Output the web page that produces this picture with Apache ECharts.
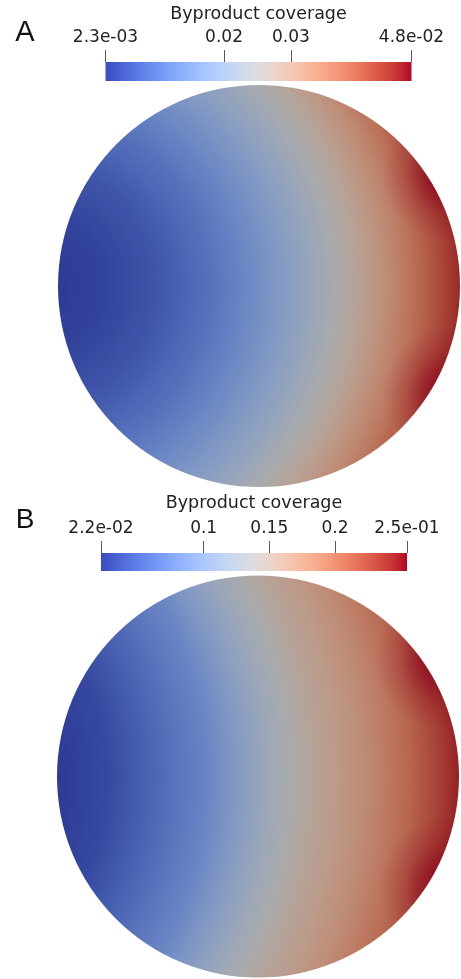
<!DOCTYPE html>
<html>
<head>
<meta charset="utf-8">
<script src="https://cdn.jsdelivr.net/npm/echarts@6/dist/echarts.min.js"></script>
<style>
  html, body { margin: 0; padding: 0; background: #ffffff; }
  #chart { width: 461px; height: 979px; }
</style>
</head>
<body>
<div id="chart"></div>
<script>
// Colour-bar ranges, ticks and their printed labels
const rangeA = [0.0023, 0.048];
const ticksA = [0.0023, 0.02, 0.03, 0.048];
const tickLabelsA = ['2.3e-03', '0.02', '0.03', '4.8e-02'];

const rangeB = [0.0218, 0.2549];
const ticksB = [0.0218, 0.1, 0.15, 0.2, 0.2549];
const tickLabelsB = ['2.2e-02', '0.1', '0.15', '0.2', '2.5e-01'];

// Byproduct coverage along the horizontal diameter of each disc (x in disc radii)
const profileX = [-1, -0.75, -0.5, -0.25, 0, 0.25, 0.5, 0.75, 1];
const coverageA = [0.0023, 0.0035, 0.0060, 0.0100, 0.0150, 0.0210, 0.0285, 0.0370, 0.0458];
const coverageB = [0.0220, 0.0310, 0.0540, 0.0780, 0.1150, 0.1500, 0.1760, 0.2080, 0.2470];

// Centre of the circular iso-coverage contours (disc radii, disc centre at 0,0)
const contourCentreA = [-1.124, 0];
const contourCentreB = [-1.975, 0];

// Coverage maxima just past the right-hand rim: [x, y, coverage, reach] in disc radii
const rimPeaksA = [[0.95, 0.56, 0.048, 0.34], [0.96, -0.54, 0.048, 0.34]];
const rimPeaksB = [[0.94, 0.58, 0.2549, 0.36], [0.96, -0.55, 0.2549, 0.36]];

const panelTitle = 'Byproduct coverage';
const panelLetters = ['A', 'B'];

// ParaView "Cool to Warm" diverging palette, 33 evenly spaced entries
const COOL_WARM = [
  [59,76,192],[68,90,204],[77,104,215],[87,117,225],[98,130,234],[108,142,241],
  [119,154,247],[130,165,251],[141,176,254],[152,185,255],[163,194,255],[174,201,253],
  [184,208,249],[194,213,244],[204,217,238],[213,219,230],[221,221,221],[229,216,209],
  [236,211,197],[241,204,185],[245,196,173],[247,187,160],[247,177,148],[247,166,135],
  [244,154,123],[241,141,111],[236,127,99],[229,112,88],[222,96,77],[213,80,66],
  [203,62,56],[192,40,47],[180,4,38]
];
// Surface shading of the rendered disc
const SHADE = 0.77;
// Colour stops per profile segment (scalars are blended before colour lookup)
const SUBSTEPS = 6;

function paletteRGB(t, shade) {
  t = Math.max(0, Math.min(1, t));
  const f = t * (COOL_WARM.length - 1);
  const i = Math.min(COOL_WARM.length - 2, Math.floor(f));
  const u = f - i;
  const a = COOL_WARM[i], b = COOL_WARM[i + 1];
  return [0, 1, 2].map(k => Math.round((a[k] + (b[k] - a[k]) * u) * shade));
}
function paletteColor(t, shade, alpha) {
  const c = paletteRGB(t, shade);
  return alpha === undefined ? 'rgb(' + c.join(',') + ')' : 'rgba(' + c.join(',') + ',' + alpha + ')';
}

const barStops = COOL_WARM.map((_, i) => ({
  offset: i / (COOL_WARM.length - 1),
  color: paletteColor(i / (COOL_WARM.length - 1), 1)
}));

function colorBarItem(params, api) {
  const p0 = api.coord([api.value(0), 1]);
  const p1 = api.coord([api.value(1), 0]);
  return {
    type: 'rect',
    shape: { x: p0[0], y: p0[1], width: p1[0] - p0[0], height: p1[1] - p0[1] },
    style: { fill: new echarts.graphic.LinearGradient(0, 0, 1, 0, barStops) }
  };
}

function discRenderer(range, coverage, centre, peaks) {
  const norm = v => (v - range[0]) / (range[1] - range[0]);
  return function (params, api) {
    const c = api.coord([api.value(0), api.value(1)]);
    const r = api.size([api.value(2), 0])[0];
    const reach = 1 - centre[0];                 // farthest disc point from the contour centre
    const src = api.coord(centre);
    const reachPx = api.size([reach, 0])[0];
    const offsetOf = x => Math.min(1, Math.hypot(x - centre[0], centre[1]) / reach);
    const stops = [{ offset: 0, color: paletteColor(norm(coverage[0]), SHADE) }];
    for (let i = 0; i < profileX.length; i++) {
      if (i === 0) {
        stops.push({ offset: offsetOf(profileX[0]), color: paletteColor(norm(coverage[0]), SHADE) });
        continue;
      }
      for (let s = 1; s <= SUBSTEPS; s++) {
        const u = s / SUBSTEPS;
        const x = profileX[i - 1] + (profileX[i] - profileX[i - 1]) * u;
        const v = coverage[i - 1] + (coverage[i] - coverage[i - 1]) * u;
        stops.push({ offset: offsetOf(x), color: paletteColor(norm(v), SHADE) });
      }
    }
    const children = [{
      type: 'circle',
      shape: { cx: c[0], cy: c[1], r: r },
      style: { fill: new echarts.graphic.RadialGradient(src[0], src[1], reachPx, stops, true) }
    }];
    // rim maxima, clipped to the disc outline
    peaks.forEach(p => {
      const pc = api.coord([p[0], p[1]]);
      const pr = api.size([p[3], 0])[0];
      const t = norm(p[2]);
      children.push({
        type: 'circle',
        shape: { cx: pc[0], cy: pc[1], r: pr },
        clipPath: { type: 'circle', shape: { cx: c[0], cy: c[1], r: r } },
        style: {
          fill: new echarts.graphic.RadialGradient(pc[0], pc[1], pr, [
            { offset: 0, color: paletteColor(t, SHADE, 0.95) },
            { offset: 0.3, color: paletteColor(t, SHADE, 0.7) },
            { offset: 0.65, color: paletteColor(t, SHADE, 0.22) },
            { offset: 1, color: paletteColor(t, SHADE, 0) }
          ], true)
        }
      });
    });
    return { type: 'group', children: children };
  };
}

function labelFor(ticks, labels) {
  return function (v) {
    let best = 0;
    ticks.forEach((t, i) => { if (Math.abs(t - v) < Math.abs(ticks[best] - v)) best = i; });
    return labels[best];
  };
}

const TEXT = '#222222';
const FONT = 'DejaVu Sans';

function barAxis(gridIndex, range, ticks, labels) {
  return {
    type: 'value', gridIndex: gridIndex, min: range[0], max: range[1], position: 'top', z: 10,
    axisLine: { show: true, onZero: false, lineStyle: { color: 'rgba(0,0,0,0)', width: 0 } },
    splitLine: { show: false },
    axisTick: { show: true, customValues: ticks, length: 12, inside: false,
                lineStyle: { color: '#5a5a5a', width: 1 } },
    axisLabel: { show: true, customValues: ticks, formatter: labelFor(ticks, labels),
                 margin: 16, fontSize: 17, fontFamily: FONT, color: TEXT }
  };
}
function hiddenAxis(gridIndex, min, max) {
  return { type: 'value', gridIndex: gridIndex, min: min, max: max, show: false };
}

const chart = echarts.init(document.getElementById('chart'), null, { renderer: 'canvas' });

chart.setOption({
  animation: false,
  grid: [
    { left: 105.5, top: 62, width: 306, height: 19 },
    { left: 58, top: 85, width: 402, height: 402 },
    { left: 101, top: 553, width: 306, height: 18 },
    { left: 57, top: 575.5, width: 402, height: 402 }
  ],
  xAxis: [
    barAxis(0, rangeA, ticksA, tickLabelsA),
    hiddenAxis(1, -1, 1),
    barAxis(2, rangeB, ticksB, tickLabelsB),
    hiddenAxis(3, -1, 1)
  ],
  yAxis: [
    hiddenAxis(0, 0, 1),
    hiddenAxis(1, -1, 1),
    hiddenAxis(2, 0, 1),
    hiddenAxis(3, -1, 1)
  ],
  series: [
    { type: 'custom', xAxisIndex: 0, yAxisIndex: 0, data: [rangeA], renderItem: colorBarItem, silent: true, z: 1 },
    { type: 'custom', xAxisIndex: 1, yAxisIndex: 1, data: [[0, 0, 1]],
      renderItem: discRenderer(rangeA, coverageA, contourCentreA, rimPeaksA), silent: true, z: 1 },
    { type: 'custom', xAxisIndex: 2, yAxisIndex: 2, data: [rangeB], renderItem: colorBarItem, silent: true, z: 1 },
    { type: 'custom', xAxisIndex: 3, yAxisIndex: 3, data: [[0, 0, 1]],
      renderItem: discRenderer(rangeB, coverageB, contourCentreB, rimPeaksB), silent: true, z: 1 }
  ],
  graphic: [
    { type: 'text', x: 258.5, y: 14, style: { text: panelTitle, align: 'center', verticalAlign: 'middle',
      font: '17.5px "' + FONT + '"', fill: TEXT } },
    { type: 'text', x: 254, y: 503, style: { text: panelTitle, align: 'center', verticalAlign: 'middle',
      font: '17.5px "' + FONT + '"', fill: TEXT } },
    { type: 'text', x: 25, y: 33, style: { text: panelLetters[0], align: 'center', verticalAlign: 'middle',
      font: '29px "Liberation Sans"', fill: '#111111' } },
    { type: 'text', x: 25, y: 520, style: { text: panelLetters[1], align: 'center', verticalAlign: 'middle',
      font: '28px "Liberation Sans"', fill: '#111111' } }
  ]
});
</script>
</body>
</html>
